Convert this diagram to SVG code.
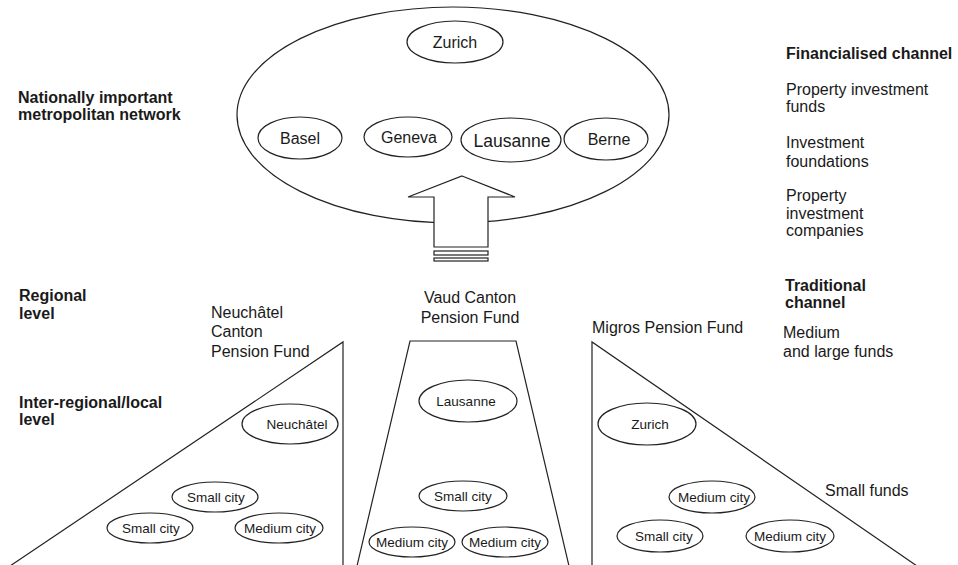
<svg xmlns="http://www.w3.org/2000/svg" width="958" height="565" viewBox="0 0 958 565">
<style>
.sh{fill:none;stroke:#222;stroke-width:1.2}
.t{font-family:"Liberation Sans",Arial,sans-serif;fill:#1a1a1a}
.b{font-weight:bold}
.m{text-anchor:middle}
</style>
<rect width="958" height="565" fill="#fff"/>
<g id="labels">
<text class="t b" font-size="16" x="18" y="103">Nationally important</text>
<text class="t b" font-size="16" x="18" y="120">metropolitan network</text>
<text class="t b" font-size="16" x="19" y="301">Regional</text>
<text class="t b" font-size="16" x="19" y="319">level</text>
<text class="t b" font-size="16" x="19" y="408">Inter-regional/local</text>
<text class="t b" font-size="16" x="19" y="425">level</text>
<text class="t b" font-size="16" x="786" y="59">Financialised channel</text>
<text class="t" font-size="16" x="786" y="95">Property investment</text>
<text class="t" font-size="16" x="786" y="112">funds</text>
<text class="t" font-size="16" x="786" y="148">Investment</text>
<text class="t" font-size="16" x="786" y="167">foundations</text>
<text class="t" font-size="16" x="786" y="201">Property</text>
<text class="t" font-size="16" x="786" y="219">investment</text>
<text class="t" font-size="16" x="786" y="236">companies</text>
<text class="t b" font-size="16" x="785" y="291">Traditional</text>
<text class="t b" font-size="16" x="785" y="308">channel</text>
<text class="t" font-size="16" x="783" y="338">Medium</text>
<text class="t" font-size="16" x="783" y="357">and large funds</text>
<text class="t" font-size="16" x="211" y="318">Neuchâtel</text>
<text class="t" font-size="16" x="211" y="337">Canton</text>
<text class="t" font-size="16" x="211" y="357">Pension Fund</text>
<text class="t m" font-size="16" x="470" y="303">Vaud Canton</text>
<text class="t m" font-size="16" x="470" y="323">Pension Fund</text>
<text class="t" font-size="16" x="592" y="333">Migros Pension Fund</text>
<text class="t" font-size="16" x="825" y="496">Small funds</text>
</g>
<g id="national">
<ellipse class="sh" cx="453" cy="115" rx="216" ry="108"/>
</g>
<g id="n-zurich"><ellipse class="sh" cx="455" cy="42" rx="48" ry="21"/><text class="t m" font-size="16" x="455" y="48">Zurich</text></g>
<g id="n-basel"><ellipse class="sh" cx="300" cy="138" rx="42" ry="21"/><text class="t m" font-size="16" x="300" y="144">Basel</text></g>
<g id="n-geneva"><ellipse class="sh" cx="408" cy="137" rx="44" ry="20"/><text class="t m" font-size="16" x="409" y="143">Geneva</text></g>
<g id="n-lausanne"><ellipse class="sh" cx="511" cy="140" rx="50" ry="22"/><text class="t m" font-size="17.5" x="512" y="147">Lausanne</text></g>
<g id="n-berne"><ellipse class="sh" cx="606" cy="139" rx="42" ry="21"/><text class="t m" font-size="16" x="609" y="145">Berne</text></g>
<g id="connectors">
<path class="sh" d="M462,176 L515,197 L488,197 L488,247 L434,247 L434,197 L408,197 Z" style="fill:#fff"/>
<rect class="sh" x="434" y="251" width="54" height="4"/>
<rect class="sh" x="434" y="258" width="54" height="3"/>
</g>
<g id="neuchatel-fund">
<path class="sh" d="M10,566 L343,342 L343,566"/>
</g>
<g id="l-neuchatel"><ellipse class="sh" cx="290" cy="424" rx="48" ry="20"/><text class="t m" font-size="13.5" x="297" y="429">Neuchâtel</text></g>
<g id="l-small1"><ellipse class="sh" cx="215" cy="497" rx="43" ry="15"/><text class="t m" font-size="13.5" x="216" y="502">Small city</text></g>
<g id="l-small2"><ellipse class="sh" cx="150" cy="528" rx="43" ry="15"/><text class="t m" font-size="13.5" x="151" y="533">Small city</text></g>
<g id="l-medium"><ellipse class="sh" cx="279" cy="528" rx="44" ry="15"/><text class="t m" font-size="13.5" x="280" y="533">Medium city</text></g>
<g id="vaud-fund">
<path class="sh" d="M357,566 L410,341 L516,341 L569,566"/>
</g>
<g id="v-lausanne"><ellipse class="sh" cx="468" cy="401" rx="49" ry="21"/><text class="t m" font-size="13.5" x="466" y="406">Lausanne</text></g>
<g id="v-small"><ellipse class="sh" cx="463" cy="496" rx="44" ry="15"/><text class="t m" font-size="13.5" x="463" y="501">Small city</text></g>
<g id="v-medium1"><ellipse class="sh" cx="412" cy="542" rx="43" ry="15"/><text class="t m" font-size="13.5" x="412" y="547">Medium city</text></g>
<g id="v-medium2"><ellipse class="sh" cx="505" cy="542" rx="43" ry="15"/><text class="t m" font-size="13.5" x="505" y="547">Medium city</text></g>
<g id="migros-fund">
<path class="sh" d="M592,566 L592,342 L917,566"/>
</g>
<g id="m-zurich"><ellipse class="sh" cx="647" cy="424" rx="49" ry="21"/><text class="t m" font-size="13.5" x="650" y="429">Zurich</text></g>
<g id="m-medium1"><ellipse class="sh" cx="712" cy="497" rx="43" ry="16"/><text class="t m" font-size="13.5" x="714" y="502">Medium city</text></g>
<g id="m-small"><ellipse class="sh" cx="660" cy="536" rx="43" ry="16"/><text class="t m" font-size="13.5" x="664" y="541">Small city</text></g>
<g id="m-medium2"><ellipse class="sh" cx="790" cy="536" rx="44" ry="16"/><text class="t m" font-size="13.5" x="790" y="541">Medium city</text></g>
</svg>
